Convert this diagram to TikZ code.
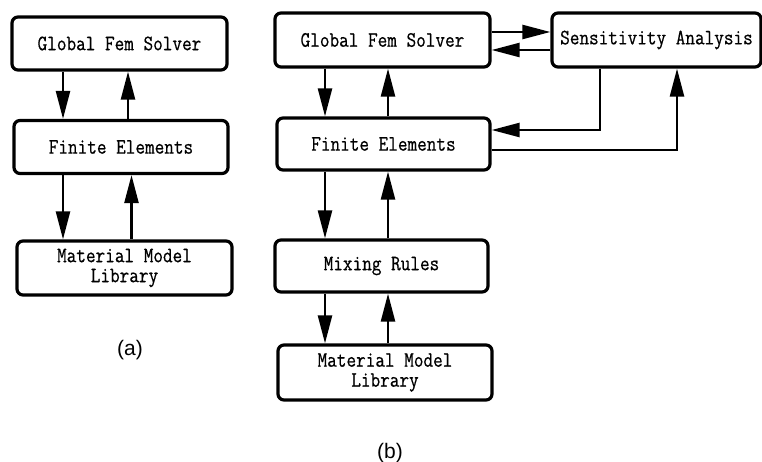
\documentclass[tikz,border=0pt]{standalone}
\usepackage{fontspec}
\setsansfont{Liberation Sans}
\newfontfamily\boxfont[FakeBold=0.6,FakeStretch=0.85]{Latin Modern Mono}
\usetikzlibrary{arrows.meta}

\tikzset{
    block/.style={draw, line width=3.2pt, rounded corners=6pt,
        minimum width=214pt, minimum height=53pt, inner sep=0pt,
        align=center, font=\boxfont\fontsize{22}{20}\selectfont},
    flow/.style={line width=2.4pt, -{Triangle[length=28pt,width=14pt]}},
    caption/.style={font=\sffamily\fontsize{21}{21}\selectfont},
}

\begin{document}
\begin{tikzpicture}[x=1pt,y=-1pt]
    \useasboundingbox (0,0) rectangle (762,462);

    % (a) plain solver chain
    \node [block, minimum width=215pt] (gfsA) at (119.5,43.5) {Global Fem Solver};
    \node [block] (feA) at (121,147) {Finite Elements};
    \node [block, minimum width=215pt, minimum height=54pt] (mmlA) at (124.5,268) {Material Model\\Library};

    \draw [flow] ([xshift=-56.5pt]gfsA.south) -- ([xshift=-56.5pt]gfsA.south |- feA.north);
    \draw [flow] ([xshift=7pt]feA.north) -- ([xshift=7pt]feA.north |- gfsA.south);
    \draw [flow] ([xshift=-58pt]feA.south) -- ([xshift=-58pt]feA.south |- mmlA.north);
    \draw [flow] ([xshift=7pt]mmlA.north) -- ([xshift=7pt]mmlA.north |- feA.south);

    \node [caption] (capA) at (130,350) {(a)};

    % (b) with mixing rules and sensitivity loop
    \node [block, minimum width=215pt, minimum height=54pt] (gfsB) at (382.5,40) {Global Fem Solver};
    \node [block, minimum width=213pt, minimum height=52pt] (feB) at (383.5,144) {Finite Elements};
    \node [block, minimum width=213pt, minimum height=52pt] (mrB) at (381.5,266) {Mixing Rules};
    \node [block, minimum height=55pt] (mmlB) at (385,372.5) {Material Model\\Library};
    \node [block, minimum width=209pt, minimum height=54pt] (saB) at (656.5,40) {Sensitivity Analysis};

    \draw [flow] ([xshift=-57.5pt]gfsB.south) -- ([xshift=-57.5pt]gfsB.south |- feB.north);
    \draw [flow] ([xshift=4.5pt]feB.north) -- ([xshift=4.5pt]feB.north |- gfsB.south);
    \draw [flow] ([xshift=-58.5pt]feB.south) -- ([xshift=-58.5pt]feB.south |- mrB.north);
    \draw [flow] ([xshift=6.5pt]mrB.north) -- ([xshift=6.5pt]mrB.north |- feB.south);
    \draw [flow] ([xshift=-56.5pt]mrB.south) -- ([xshift=-56.5pt]mrB.south |- mmlB.north);
    \draw [flow] ([xshift=3pt]mmlB.north) -- ([xshift=3pt]mmlB.north |- mrB.south);

    \draw [flow] ([yshift=8pt]gfsB.east) -- ([yshift=8pt]gfsB.east -| saB.west);
    \draw [flow] ([yshift=-10pt]saB.west) -- ([yshift=-10pt]saB.west -| gfsB.east);
    \draw [flow] ([xshift=-56.5pt]saB.south) |- ([yshift=14pt]feB.east);
    \draw [flow] ([yshift=-6pt]feB.east) -| ([xshift=20.5pt]saB.south);

    \node [caption] (capB) at (390,453) {(b)};
\end{tikzpicture}
\end{document}
